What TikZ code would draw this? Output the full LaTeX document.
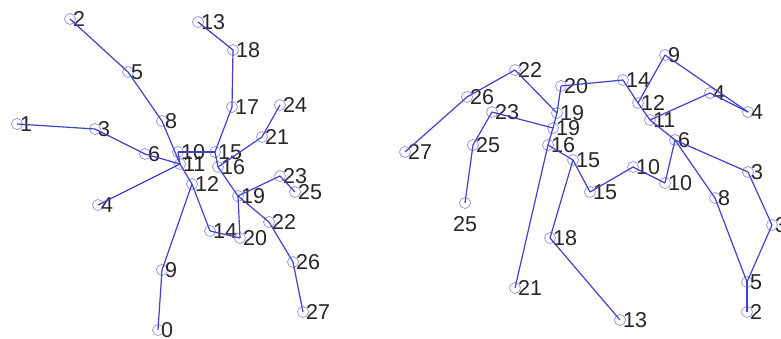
\documentclass[tikz,border=0pt]{standalone}
\usepackage{fontspec}
\setmainfont{Liberation Sans}
\usepackage{xcolor}
\usepackage{tikz}

\definecolor{boneblue}{RGB}{65,65,200}
\definecolor{jointblue}{RGB}{140,140,225}
\tikzset{
  joint/.style={circle, draw=jointblue, line width=0.7pt, inner sep=0pt, minimum size=11pt},
  bone/.style={boneblue, line width=1.2pt},
  num/.style={font=\fontsize{21.5}{21.5}\selectfont, inner sep=0pt, text=black!85},
}

\begin{document}
\begin{tikzpicture}[x=1pt, y=-1pt]
    \useasboundingbox (0,0) rectangle (781,338);
    % left skeleton
    \foreach \n/\x/\y in {0/158/330, 1/17/124, 2/70/19, 3/95/129, 4/98/205, 5/128/72,
        6/145/154, 8/162/121, 9/162/270, 10/178/152, 11/180/164, 12/192/184,
        13/198/22, 14/210/231, 15/215/152, 16/218/167, 17/232/107, 18/233/50,
        19/238/196, 20/240/238, 21/262/137, 22/269/222, 23/280/176, 24/280/105,
        25/295/192, 26/293/262, 27/303/312}
        \node[joint, label={[num, label distance=-3pt]east:\n}] (a\n) at (\x,\y) {};
    \foreach \p/\q in {1/3, 3/6, 6/11, 2/5, 5/8, 8/11, 4/11, 10/11, 10/15, 11/12,
        12/14, 12/9, 9/0, 15/17, 17/18, 18/13, 15/16, 16/21, 21/24, 16/19,
        19/22, 22/26, 26/27, 19/23, 23/25, 19/20, 20/14}
        \draw[bone] (a\p.center) -- (a\q.center);

    % right skeleton
    \foreach \n/\t/\x/\y in {b22/22/515/70, b26/26/467/97, b27/27/405/152,
        b23/23/492/112, b25u/25/473/145, b20/20/561/86, b19u/19/557/113,
        b19l/19/553/128, b16/16/548/145, b15u/15/573/160, b15l/15/590/192,
        b14/14/623/80, b12/12/638/103, b11/11/650/120, b6/6/675/140,
        b9/9/665/55, b4u/4/710/93, b4l/4/748/112, b10u/10/633/167,
        b10l/10/665/183, b3u/3/748/172, b3l/3/772/225, b8/8/715/198,
        b5/5/747/282, b2/2/747/312, b18/18/550/238, b21/21/515/288, b13/13/620/320}
        \node[joint, label={[num, label distance=-3pt]east:\t}] (\n) at (\x,\y) {};
    \node[joint, label={[num, label distance=7pt]below:25}] (b25l) at (465,203) {};
    \foreach \p/\q in {b27/b26, b26/b22, b22/b19u, b23/b19l, b23/b25u, b25u/b25l,
        b20/b14, b20/b19u, b19u/b19l, b19l/b16, b16/b21, b16/b15u, b15u/b15l,
        b15u/b18, b18/b13, b15l/b10u, b10u/b10l, b10l/b6, b14/b12, b12/b11,
        b11/b6, b12/b9, b9/b4l, b11/b4u, b4u/b4l, b6/b3u, b3u/b3l, b3l/b5,
        b5/b2, b6/b8, b8/b5}
        \draw[bone] (\p.center) -- (\q.center);
\end{tikzpicture}
\end{document}
